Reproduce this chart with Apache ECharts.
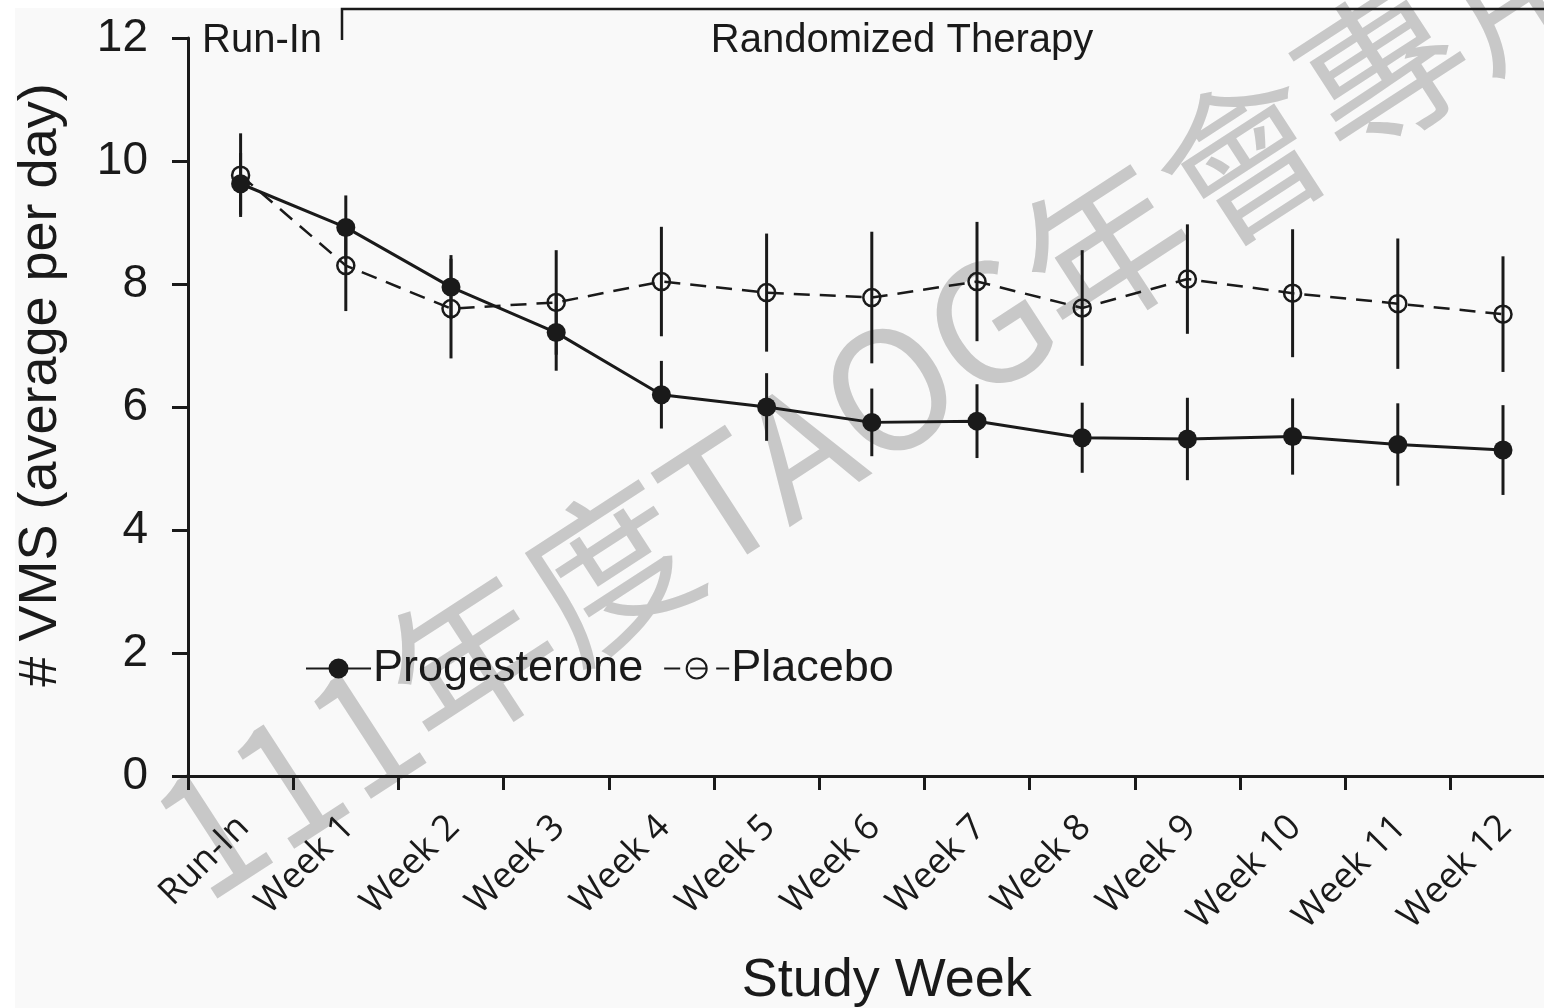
<!DOCTYPE html>
<html>
<head>
<meta charset="utf-8">
<script src="https://cdn.jsdelivr.net/npm/echarts@6/dist/echarts.min.js"></script>
<style>
  html, body { margin: 0; padding: 0; background: #ffffff; }
  #chart { width: 1544px; height: 1008px; }
</style>
</head>
<body>
<div id="chart"></div>
<script>
// Study periods along the x axis
const weeks = ['Run-In', 'Week 1', 'Week 2', 'Week 3', 'Week 4', 'Week 5', 'Week 6',
               'Week 7', 'Week 8', 'Week 9', 'Week 10', 'Week 11', 'Week 12'];

// Mean number of VMS per day and half-width of the error bars
const progesterone    = [9.63, 8.92, 7.95, 7.21, 6.20, 6.00, 5.75, 5.77, 5.50, 5.48, 5.52, 5.39, 5.30];
const progesteroneErr = [0.50, 0.52, 0.52, 0.62, 0.55, 0.55, 0.55, 0.60, 0.57, 0.67, 0.62, 0.67, 0.73];
const placebo         = [9.77, 8.30, 7.60, 7.70, 8.04, 7.86, 7.78, 8.04, 7.61, 8.08, 7.85, 7.68, 7.51];
const placeboErr      = [0.68, 0.74, 0.81, 0.85, 0.89, 0.96, 1.07, 0.97, 0.94, 0.89, 1.04, 1.06, 0.94];

// Y axis range
const yMin = 0, yMax = 12, yStep = 2;

const INK = '#1a1a1a';
const SANS = '"Liberation Sans", Arial, Helvetica, sans-serif';

function errorRows(means, errs) {
  return means.map((m, i) => [i, m - errs[i], m + errs[i]]);
}

function errorBarSeries(name, means, errs) {
  return {
    name: name + ' error',
    type: 'custom',
    data: errorRows(means, errs),
    encode: { x: 0, y: [1, 2] },
    silent: true,
    z: 1,
    renderItem: function (params, api) {
      const lo = api.coord([api.value(0), api.value(1)]);
      const hi = api.coord([api.value(0), api.value(2)]);
      return {
        type: 'line',
        shape: { x1: lo[0], y1: lo[1], x2: hi[0], y2: hi[1] },
        style: { stroke: INK, lineWidth: 3 }
      };
    }
  };
}

const chart = echarts.init(document.getElementById('chart'), null, { renderer: 'canvas' });

chart.setOption({
  backgroundColor: '#ffffff',
  animation: false,
  grid: {
    left: 188,
    top: 38,
    width: 1367.6,
    height: 738,
    containLabel: false,
    outerBoundsMode: 'none'
  },
  legend: {
    left: 300,
    top: 641,
    itemWidth: 65,
    itemHeight: 25,
    itemGap: 20,
    data: ['Progesterone', 'Placebo'],
    textStyle: { fontFamily: SANS, fontSize: 45, color: INK, padding: [0, 0, 0, -3] }
  },
  xAxis: {
    type: 'category',
    data: weeks,
    boundaryGap: true,
    name: 'Study Week',
    nameLocation: 'middle',
    nameGap: 178,
    nameTextStyle: { fontFamily: SANS, fontSize: 54, color: INK, padding: [0, 0, 0, 30] },
    axisLine: { lineStyle: { color: INK, width: 3 } },
    axisTick: { show: true, interval: 0, length: 14, lineStyle: { color: INK, width: 3 } },
    axisLabel: {
      interval: 0,
      rotate: 45,
      margin: 23,
      verticalAlign: 'top',
      padding: [0, 14, 0, 0],
      fontFamily: '"Open Sans", sans-serif',
      fontSize: 36,
      color: INK
    },
    splitLine: { show: false }
  },
  yAxis: {
    type: 'value',
    min: yMin,
    max: yMax,
    interval: yStep,
    name: '# VMS (average per day)',
    nameLocation: 'middle',
    nameRotate: 90,
    nameGap: 120,
    nameTextStyle: { fontFamily: SANS, fontSize: 54, color: INK, padding: [0, 0, 0, 44] },
    axisLine: { show: true, lineStyle: { color: INK, width: 3 } },
    axisTick: { show: true, length: 16, lineStyle: { color: INK, width: 3 } },
    axisLabel: { margin: 40, fontFamily: SANS, fontSize: 46, color: INK },
    splitLine: { show: false }
  },
  graphic: [
    { type: 'rect', z: -100, silent: true,
      shape: { x: 15, y: 8, width: 1529, height: 1000 },
      style: { fill: '#f9f9f9' } },
    { type: 'text', z: -50, silent: true,
      x: 171, y: 854, rotation: 33 * Math.PI / 180,
      style: { text: '111年度TAOG年會專用', fill: '#c8c8c8',
               font: '165px "Noto Sans CJK TC", "Noto Sans", sans-serif',
               textAlign: 'left', textVerticalAlign: 'middle' } },
    // Period bracket above the plot
    { type: 'polyline', silent: true,
      shape: { points: [[342, 40], [342, 9], [1544, 9]] },
      style: { stroke: INK, lineWidth: 2.5, fill: null } },
    { type: 'text', silent: true, x: 202, y: 41,
      style: { text: 'Run-In', font: '40px ' + SANS, fill: INK,
               textAlign: 'left', textVerticalAlign: 'middle' } },
    { type: 'text', silent: true, x: 902, y: 41,
      style: { text: 'Randomized Therapy', font: '40px ' + SANS, fill: INK,
               textAlign: 'center', textVerticalAlign: 'middle' } }
  ],
  series: [
    errorBarSeries('Placebo', placebo, placeboErr),
    errorBarSeries('Progesterone', progesterone, progesteroneErr),
    {
      name: 'Placebo',
      type: 'line',
      data: placebo,
      z: 3,
      symbol: 'circle',
      symbolSize: 17,
      lineStyle: { color: INK, width: 2.5, type: [16, 10] },
      itemStyle: { color: 'none', borderColor: INK, borderWidth: 2.5 }
    },
    {
      name: 'Progesterone',
      type: 'line',
      data: progesterone,
      z: 4,
      symbol: 'circle',
      symbolSize: 19,
      lineStyle: { color: INK, width: 3 },
      itemStyle: { color: INK, borderWidth: 0 }
    }
  ]
});
</script>
</body>
</html>
